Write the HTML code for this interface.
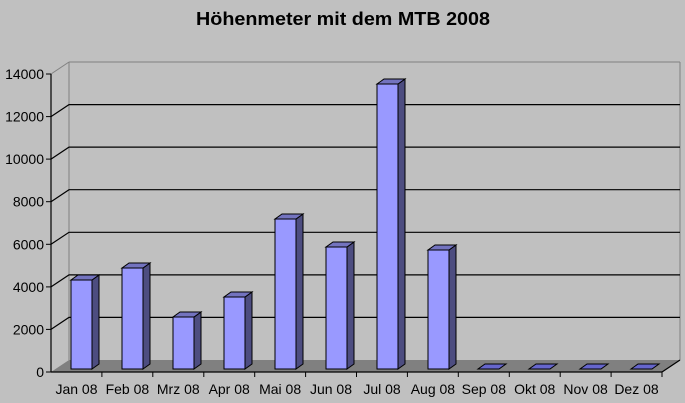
<!DOCTYPE html>
<html><head><meta charset="utf-8"><style>
html,body{margin:0;padding:0;background:#c0c0c0;}
svg{display:block;font-family:"Liberation Sans",Arial,sans-serif;}
</style></head><body>
<svg width="685" height="403" viewBox="0 0 685 403" xmlns="http://www.w3.org/2000/svg">
<rect width="685" height="403" fill="#c0c0c0"/>
<text x="343" y="25" text-anchor="middle" font-size="18" font-weight="bold" textLength="294" lengthAdjust="spacingAndGlyphs">Höhenmeter mit dem MTB 2008</text>
<polygon points="51,372 662,372 680,360 69,360" fill="#808080"/>
<line x1="69" y1="62" x2="680" y2="62" stroke="#808080"/>
<line x1="69" y1="62" x2="69" y2="360" stroke="#808080"/>
<line x1="680" y1="62" x2="680" y2="360" stroke="#808080"/>
<line x1="51" y1="74" x2="69" y2="62" stroke="#808080"/>
<g stroke="#000" stroke-width="1.2" fill="none">
<polyline points="51,329.4 69,317.4 680,317.4"/>
<polyline points="51,286.9 69,274.9 680,274.9"/>
<polyline points="51,244.3 69,232.3 680,232.3"/>
<polyline points="51,201.7 69,189.7 680,189.7"/>
<polyline points="51,159.1 69,147.1 680,147.1"/>
<polyline points="51,116.6 69,104.6 680,104.6"/>
<line x1="51" y1="74" x2="51" y2="372"/>
<line x1="51" y1="372" x2="662" y2="372"/>
<line x1="662" y1="372" x2="680" y2="360"/>
</g>
<g stroke="#000" stroke-width="1">
<line x1="46" y1="74" x2="51" y2="74"/><line x1="46" y1="116.6" x2="51" y2="116.6"/><line x1="46" y1="159.1" x2="51" y2="159.1"/><line x1="46" y1="201.7" x2="51" y2="201.7"/><line x1="46" y1="244.3" x2="51" y2="244.3"/><line x1="46" y1="286.9" x2="51" y2="286.9"/><line x1="46" y1="329.4" x2="51" y2="329.4"/><line x1="46" y1="372" x2="51" y2="372"/>
<line x1="101.9" y1="372" x2="101.9" y2="377"/><line x1="152.8" y1="372" x2="152.8" y2="377"/><line x1="203.8" y1="372" x2="203.8" y2="377"/><line x1="254.7" y1="372" x2="254.7" y2="377"/><line x1="305.6" y1="372" x2="305.6" y2="377"/><line x1="356.5" y1="372" x2="356.5" y2="377"/><line x1="407.4" y1="372" x2="407.4" y2="377"/><line x1="458.3" y1="372" x2="458.3" y2="377"/><line x1="509.3" y1="372" x2="509.3" y2="377"/><line x1="560.2" y1="372" x2="560.2" y2="377"/><line x1="611.1" y1="372" x2="611.1" y2="377"/><line x1="662" y1="372" x2="662" y2="377"/>
</g>
<g font-size="14" text-anchor="end">
<text x="44" y="79">14000</text><text x="44" y="121.6">12000</text><text x="44" y="164.1">10000</text><text x="44" y="206.7">8000</text><text x="44" y="249.3">6000</text><text x="44" y="291.9">4000</text><text x="44" y="334.4">2000</text><text x="44" y="377">0</text>
</g>
<g font-size="14" text-anchor="middle">
<text x="76.5" y="394">Jan 08</text><text x="127.4" y="394">Feb 08</text><text x="178.3" y="394">Mrz 08</text><text x="229.2" y="394">Apr 08</text><text x="280.1" y="394">Mai 08</text><text x="331" y="394">Jun 08</text><text x="382" y="394">Jul 08</text><text x="432.9" y="394">Aug 08</text><text x="483.8" y="394">Sep 08</text><text x="534.7" y="394">Okt 08</text><text x="585.6" y="394">Nov 08</text><text x="636.5" y="394">Dez 08</text>
</g>
<g stroke="#000" stroke-width="1">
<rect x="71" y="280" width="21" height="89" fill="#9999ff"/><polygon points="92,369 99,364 99,275 92,280" fill="#4d4d80"/><polygon points="71,280 92,280 99,275 78,275" fill="#7373bf"/>
<rect x="122" y="268" width="21" height="101" fill="#9999ff"/><polygon points="143,369 150,364 150,263 143,268" fill="#4d4d80"/><polygon points="122,268 143,268 150,263 129,263" fill="#7373bf"/>
<rect x="173" y="317" width="21" height="52" fill="#9999ff"/><polygon points="194,369 201,364 201,312 194,317" fill="#4d4d80"/><polygon points="173,317 194,317 201,312 180,312" fill="#7373bf"/>
<rect x="224" y="297" width="21" height="72" fill="#9999ff"/><polygon points="245,369 252,364 252,292 245,297" fill="#4d4d80"/><polygon points="224,297 245,297 252,292 231,292" fill="#7373bf"/>
<rect x="275" y="219" width="21" height="150" fill="#9999ff"/><polygon points="296,369 303,364 303,214 296,219" fill="#4d4d80"/><polygon points="275,219 296,219 303,214 282,214" fill="#7373bf"/>
<rect x="326" y="247" width="21" height="122" fill="#9999ff"/><polygon points="347,369 354,364 354,242 347,247" fill="#4d4d80"/><polygon points="326,247 347,247 354,242 333,242" fill="#7373bf"/>
<rect x="377" y="84" width="21" height="285" fill="#9999ff"/><polygon points="398,369 405,364 405,79 398,84" fill="#4d4d80"/><polygon points="377,84 398,84 405,79 384,79" fill="#7373bf"/>
<rect x="428" y="250" width="21" height="119" fill="#9999ff"/><polygon points="449,369 456,364 456,245 449,250" fill="#4d4d80"/><polygon points="428,250 449,250 456,245 435,245" fill="#7373bf"/>
<polygon points="478,369 499,369 506,364 485,364" fill="#6666cc"/>
<polygon points="529,369 550,369 557,364 536,364" fill="#6666cc"/>
<polygon points="580,369 601,369 608,364 587,364" fill="#6666cc"/>
<polygon points="631,369 652,369 659,364 638,364" fill="#6666cc"/>
</g>
</svg>
</body></html>
